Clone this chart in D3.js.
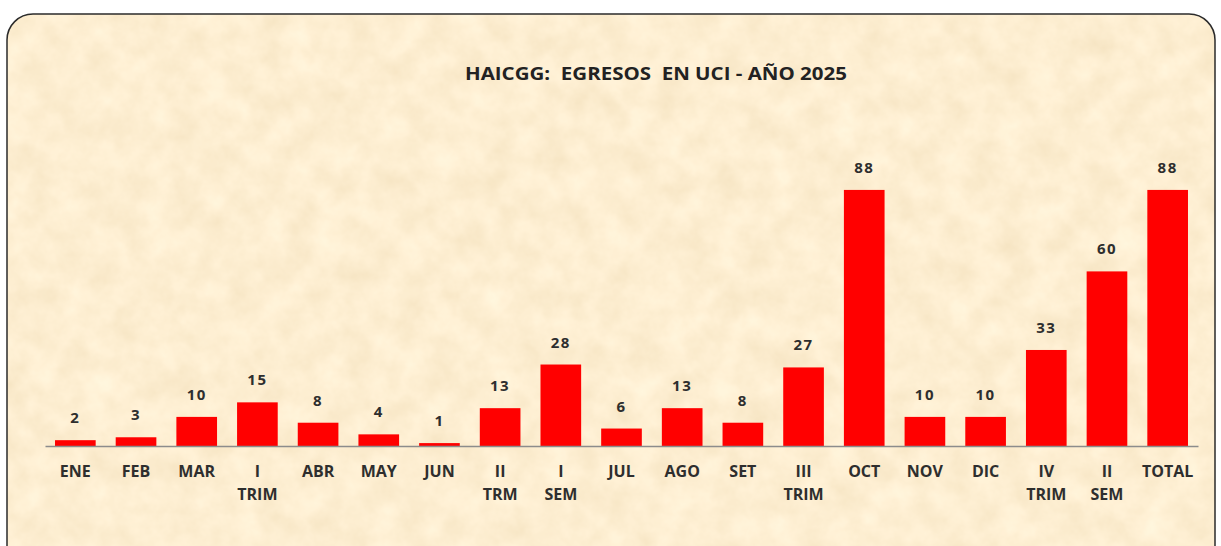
<!DOCTYPE html>
<html>
<head>
<meta charset="utf-8">
<script src="https://cdn.jsdelivr.net/npm/d3@7"></script>
<style>
  body { margin: 0; background: #fff; }
  svg { display: block; }
</style>
</head>
<body>
<div id="main"></div>
<script>
var categories = ["ENE", "FEB", "MAR", "I TRIM", "ABR", "MAY", "JUN", "II TRM", "I SEM",
  "JUL", "AGO", "SET", "III TRIM", "OCT", "NOV", "DIC", "IV TRIM", "II SEM", "TOTAL"];
var egresos = [2, 3, 10, 15, 8, 4, 1, 13, 28, 6, 13, 8, 27, 88, 10, 10, 33, 60, 88];
var titleText = "HAICGG:  EGRESOS  EN UCI - AÑO 2025";

var width = 1221,
  height = 546;
var margin = { top: 155, bottom: 100, left: 45, right: 23 };
var baseY = height - margin.bottom;
var fontFam = "'Open Sans', Lato, sans-serif";

var svg = d3.select("#main").append("svg")
  .attr("width", width)
  .attr("height", height);

var defs = svg.append("defs");

// parchment look
var filt = defs.append("filter")
  .attr("id", "paper")
  .attr("color-interpolation-filters", "sRGB")
  .attr("x", 0).attr("y", 0).attr("width", "100%").attr("height", "100%");
filt.append("feTurbulence")
  .attr("type", "fractalNoise")
  .attr("baseFrequency", "0.035")
  .attr("numOctaves", 4)
  .attr("seed", 7)
  .attr("result", "noise");
filt.append("feColorMatrix")
  .attr("in", "noise")
  .attr("type", "matrix")
  .attr("values", "0.06 0 0 0 0.962  0.08 0 0 0 0.893  0.12 0 0 0 0.76  0 0 0 0 1");

defs.append("clipPath").attr("id", "frameClip")
  .append("rect")
  .attr("x", 7).attr("y", 14)
  .attr("width", 1208).attr("height", 600)
  .attr("rx", 26).attr("ry", 26);

svg.append("rect")
  .attr("x", 7).attr("y", 14)
  .attr("width", 1208).attr("height", 600)
  .attr("clip-path", "url(#frameClip)")
  .attr("filter", "url(#paper)");

svg.append("rect")
  .attr("x", 7).attr("y", 14)
  .attr("width", 1208).attr("height", 600)
  .attr("rx", 26).attr("ry", 26)
  .attr("fill", "none")
  .attr("stroke", "#2b2b2b")
  .attr("stroke-width", 1.5);

var x = d3.scaleBand()
  .domain(categories)
  .range([margin.left, width - margin.right])
  .paddingInner(0.33)
  .paddingOuter(0.165);

var y = d3.scaleLinear()
  .domain([0, 100])
  .range([baseY, margin.top]);

svg.append("text")
  .attr("x", 656)
  .attr("y", 80)
  .attr("text-anchor", "middle")
  .attr("textLength", 382)
  .attr("lengthAdjust", "spacingAndGlyphs")
  .style("font-family", fontFam)
  .style("font-weight", "bold")
  .style("font-size", "17px")
  .style("fill", "#222")
  .style("white-space", "pre")
  .text(titleText);

svg.selectAll(".bar")
  .data(egresos)
  .enter().append("rect")
  .attr("class", "bar")
  .attr("x", function(d, i) { return x(categories[i]); })
  .attr("width", x.bandwidth())
  .attr("y", function(d) { return y(d); })
  .attr("height", function(d) { return baseY - y(d); })
  .attr("fill", "#ff0000");

svg.selectAll(".val")
  .data(egresos)
  .enter().append("text")
  .attr("class", "val")
  .attr("x", function(d, i) { return x(categories[i]) + x.bandwidth() / 2; })
  .attr("y", function(d) { return y(d) - 17; })
  .attr("text-anchor", "middle")
  .style("font-family", fontFam)
  .style("font-weight", "bold")
  .style("font-size", "15px")
  .style("letter-spacing", "1.5px")
  .style("fill", "#2e2e2e")
  .text(function(d) { return d; });

// axis
var axis = svg.append("g")
  .attr("transform", "translate(0," + baseY + ")")
  .call(d3.axisBottom(x).tickSize(0).tickSizeOuter(0).tickFormat(""));
axis.select(".domain").attr("stroke", "#8c8c8c").attr("stroke-width", 1.5);

var lab = svg.selectAll(".cat")
  .data(categories)
  .enter().append("text")
  .attr("class", "cat")
  .attr("x", function(d) { return x(d) + x.bandwidth() / 2; })
  .attr("y", 477)
  .attr("text-anchor", "middle")
  .style("font-family", fontFam)
  .style("font-weight", "bold")
  .style("font-size", "16px")
  .style("fill", "#2e2e2e");

lab.each(function(d) {
  var parts = d.split(" ");
  var t = d3.select(this);
  parts.forEach(function(p, k) {
    t.append("tspan")
      .attr("x", x(d) + x.bandwidth() / 2)
      .attr("dy", k == 0 ? 0 : 23)
      .text(p);
  });
});
</script>
</body>
</html>
